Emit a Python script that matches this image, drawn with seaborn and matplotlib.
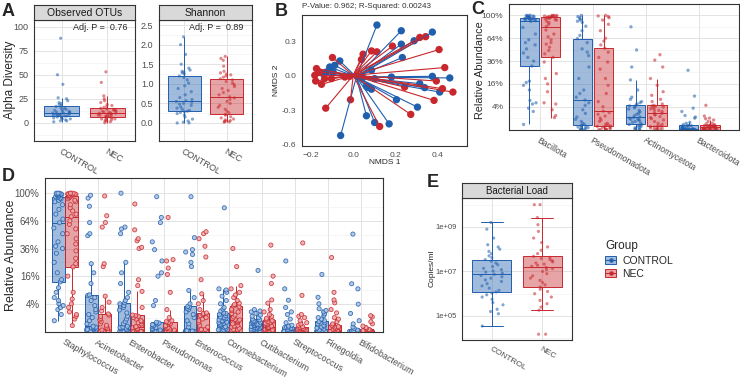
import numpy as np
import pandas as pd
import matplotlib
matplotlib.use("Agg")
import matplotlib.pyplot as plt
from matplotlib.patches import Patch
from matplotlib.lines import Line2D
from matplotlib.legend_handler import HandlerTuple
import seaborn as sns

GROUPS = ["CONTROL", "NEC"]
BLUE = "#1F5FAE"
RED = "#C8272D"

# ---- A: alpha diversity (sorted values per group)
otus_ctrl = [1, 2, 2, 3, 4, 4, 5, 5, 6, 6, 7, 7, 8, 8, 8, 9, 9, 9, 10, 10, 10,
             11, 11, 12, 12, 13, 14, 14, 15, 16, 17, 18, 19, 20, 21, 23, 25, 26, 40, 50, 88]
otus_nec = [0, 1, 2, 2, 3, 3, 4, 4, 5, 5, 6, 6, 7, 7, 8, 8, 8, 9, 9, 10, 10,
            10, 11, 11, 12, 12, 13, 13, 14, 14, 15, 16, 17, 18, 19, 21, 23, 25, 28, 42, 53]
shannon_ctrl = [0.0, 0.0, 0.02, 0.05, 0.1, 0.15, 0.2, 0.24, 0.27, 0.29, 0.30,
                0.32, 0.35, 0.38, 0.41, 0.45, 0.48, 0.5, 0.53, 0.55, 0.57,
                0.6, 0.65, 0.72, 0.8, 0.88, 0.95, 1.02, 1.1, 1.16, 1.20,
                1.25, 1.28, 1.3, 1.32, 1.35, 1.4, 1.5, 1.75, 2.0, 2.2]
shannon_nec = [0.02, 0.03, 0.04, 0.05, 0.06, 0.08, 0.1, 0.13, 0.16, 0.2, 0.22,
               0.26, 0.3, 0.35, 0.4, 0.45, 0.5, 0.55, 0.6, 0.64, 0.67,
               0.72, 0.78, 0.83, 0.88, 0.93, 0.98, 1.02, 1.06, 1.1, 1.13,
               1.17, 1.2, 1.23, 1.25, 1.28, 1.32, 1.45, 1.6, 1.65, 1.7]

# ---- B: NMDS coordinates and group centroids
nmds1_ctrl = [0.113, 0.229, 0.377, 0.290, 0.229, 0.234, -0.064, -0.112, -0.088, -0.128, -0.144, -0.096,
              0.087, 0.02, 0.045, 0.182, 0.102, 0.377, 0.46, 0.317, 0.34, 0.07, 0.087, 0.063,
              0.412, 0.206, 0.306, 0.063, 0.102, 0.171, -0.06]
nmds2_ctrl = [0.447, 0.397, 0.385, 0.309, 0.279, 0.162, 0.132, 0.079, 0.094, 0.035, 0.021, 0.035,
              0.05, -0.005, -0.015, -0.009, -0.023, -0.003, -0.017, -0.067, -0.102, -0.1, -0.116, -0.09,
              -0.141, -0.208, -0.273, -0.349, -0.408, -0.420, -0.522]
nmds1_nec = [0.317, 0.345, 0.187, 0.409, 0.087, 0.113, 0.047, 0.039, -0.099, -0.175, -0.183, -0.179,
             -0.151, -0.136, -0.104, -0.04, -0.017, -0.16, 0.436, 0.396, 0.425, 0.475, 0.245, 0.385,
             0.274, 0.126, -0.013, -0.131]
nmds2_nec = [0.338, 0.345, 0.262, 0.232, 0.220, 0.212, 0.191, 0.144, 0.162, 0.065, 0.006, -0.044,
             -0.073, -0.023, -0.023, -0.009, -0.003, 0.035, 0.074, -0.044, -0.111, -0.141, -0.097, -0.214,
             -0.337, -0.443, -0.208, -0.282]
centroid_ctrl = [0.015, -0.009]
centroid_nec = [0.0, 0.006]

# ---- C: phylum relative abundance (%)
phyla = ["Bacillota", "Pseudomonadota", "Actinomycetota", "Bacteroidota"]
bacillota_ctrl = [0.2, 2.5, 3.5, 5, 5.5, 6.5, 12, 15, 17, 18, 31, 36, 40, 45, 50, 55, 58, 62, 70, 80, 90,
                  91, 92, 93, 93, 94, 94, 94, 95, 95, 95, 96, 97, 97, 98, 98, 99, 99, 100, 100, 100]
bacillota_nec = [1.1, 1.5, 3, 5, 5.5, 11, 16, 20, 24, 35, 40, 44, 48, 52, 56, 58, 62, 66, 70, 76, 81.5,
                 85, 88, 90, 92, 93, 94, 95, 96, 96, 97, 97, 98, 98, 98, 99, 99, 99, 100, 100, 100]
pseudomonadota_ctrl = [0, 0, 0, 0, 0.01, 0.02, 0.03, 0.05, 0.08, 0.1, 0.13, 0.2, 0.3, 0.5, 0.8, 1.2, 2, 3, 4.5, 5.5, 6.7,
                       8, 10, 12, 20, 30, 42, 46, 50, 58, 63.5, 68, 75, 82, 88, 90, 92, 94, 96, 98, 100]
pseudomonadota_nec = [0, 0, 0, 0, 0, 0.01, 0.02, 0.04, 0.06, 0.08, 0.1, 0.15, 0.2, 0.3, 0.5, 0.7, 1.0, 1.4, 1.8, 2.2, 2.6,
                      4, 6, 10, 15, 20, 28, 35, 40, 46, 50.8, 55, 60, 64, 75, 85, 92, 96, 98, 99, 100]
actinomycetota_ctrl = [0, 0, 0, 0.01, 0.02, 0.04, 0.06, 0.1, 0.13, 0.17, 0.2, 0.3, 0.4, 0.5, 0.6, 0.7, 0.8, 0.9, 1.0, 1.1, 1.25,
                       1.5, 1.8, 2.0, 2.4, 2.8, 3.2, 3.6, 4.0, 4.3, 4.6, 5, 5.5, 6, 7, 8, 12, 18.9, 30, 48.7, 81]
actinomycetota_nec = [0, 0, 0, 0, 0.01, 0.02, 0.03, 0.05, 0.07, 0.09, 0.1, 0.2, 0.3, 0.5, 0.7, 0.9, 1.1, 1.3, 1.6, 1.8, 2.0,
                      2.2, 2.5, 2.8, 3.0, 3.3, 3.6, 3.9, 4.1, 4.3, 4.5, 5, 6, 7, 9, 11, 15, 20, 30, 37, 43]
bacteroidota_ctrl = [0] * 18 + [0.001, 0.001, 0.002, 0.005, 0.01, 0.02, 0.03, 0.05, 0.07, 0.09, 0.1, 0.12, 0.13,
                                0.2, 0.3, 0.4, 1.0, 1.2, 1.5, 2.5, 3.5, 8.6, 27]
bacteroidota_nec = [0] * 15 + [0.001, 0.002, 0.005, 0.01, 0.02, 0.04, 0.05, 0.06, 0.07, 0.08, 0.09, 0.1, 0.11, 0.12,
                               0.12, 0.13, 0.15, 0.2, 0.25, 0.3, 0.5, 0.7, 0.9, 1.0, 1.4, 4.5]

# ---- D: genus relative abundance (%)
genera = ["Staphylococcus", "Acinetobacter", "Enterobacter", "Pseudomonas", "Enterococcus",
          "Corynebacterium", "Cutibacterium", "Streptococcus", "Finegoldia", "Bifidobacterium"]
staph_ctrl = [0.6, 1.5, 2.5, 3, 3.5, 4, 5, 6, 8, 10, 12.8, 14, 18, 25, 32, 36, 38, 42, 50, 56, 61.8,
              66, 72, 78, 84, 88, 90, 92, 93, 94, 95, 96, 97, 97, 98, 98, 99, 99, 100, 100, 100]
staph_nec = [0.18, 0.8, 1.2, 1.5, 2, 3, 4, 5.5, 8, 16, 21.8, 24, 28, 34, 40, 45, 50, 55, 60, 64, 68.9,
             72, 76, 80, 84, 88, 90, 92, 94, 95, 96.6, 97, 97, 98, 98, 99, 99, 99, 100, 100, 100]
acineto_ctrl = [0] * 14 + [0.01, 0.02, 0.04, 0.06, 0.08, 0.1, 0.14, 0.3, 0.6, 1.0, 1.5, 2, 2.5, 3.5, 5, 6, 6.8,
                           7, 12, 18, 24, 48, 50, 62, 82, 93, 97]
acineto_nec = [0] * 20 + [0.01, 0.05, 0.1, 0.2, 0.3, 0.5, 0.7, 0.9, 1.2, 1.4, 1.6,
                          2.2, 3, 4.5, 6.5, 22, 24, 57, 62, 70, 96]
entero_ctrl = [0] * 14 + [0.01, 0.02, 0.04, 0.06, 0.08, 0.1, 0.14, 0.3, 0.5, 0.8, 1.2, 1.8, 2.4, 3, 3.5, 4, 4.3,
                          5, 6, 8, 12, 18, 25, 50, 55, 57, 100]
entero_nec = [0] * 15 + [0.01, 0.02, 0.04, 0.07, 0.1, 0.12, 0.2, 0.3, 0.4, 0.5, 0.6, 0.8, 1.0, 1.2, 1.3, 1.4,
                         3, 8.4, 11, 14, 36, 37, 43, 45, 54, 85]
pseudo_ctrl = [0] * 21 + [0.01, 0.02, 0.05, 0.08, 0.12, 0.18, 0.25, 0.3, 0.38, 0.44,
                          3.5, 5, 16, 18, 26, 35, 42, 62, 68, 95]
pseudo_nec = [0] * 21 + [0.01, 0.03, 0.05, 0.08, 0.12, 0.18, 0.25, 0.32, 0.4, 0.44,
                         0.5, 0.6, 1.0, 2.5, 8, 17, 21, 26, 27, 68]
enteroc_ctrl = [0] * 18 + [0.001, 0.002, 0.005, 0.1, 0.3, 0.6, 1.0, 1.5, 2, 2.5, 2.8, 3.1, 3.3,
                           4, 6, 8.8, 22, 25, 31, 33, 35, 46, 95]
enteroc_nec = [0] * 16 + [0.005, 0.01, 0.01, 0.02, 0.02, 0.1, 0.2, 0.4, 0.6, 0.8, 1.0, 1.3, 1.5, 1.7, 1.8,
                          2.5, 4, 5, 7.4, 14, 29, 38, 45, 50, 52]
coryne_ctrl = [0] * 7 + [0.005, 0.01, 0.015, 0.02, 0.05, 0.08, 0.12, 0.18, 0.22, 0.28, 0.34, 0.4, 0.45, 0.5,
                         0.6, 0.7, 0.8, 0.9, 1.0, 1.1, 1.3, 1.5, 1.7, 1.8, 2.2, 2.6, 3, 4, 5, 6.5, 8, 9, 9.5, 80]
coryne_nec = [0] * 6 + [0.005, 0.01, 0.01, 0.015, 0.02, 0.05, 0.1, 0.15, 0.2, 0.3, 0.4, 0.5, 0.6, 0.7, 0.74,
                        0.9, 1.1, 1.4, 1.7, 2, 2.3, 2.6, 2.9, 3.2, 3.4, 3.8, 4.2, 5, 6, 7, 8, 9.5, 11, 22, 36]
cuti_ctrl = [0] * 5 + [0.005, 0.01, 0.02, 0.03, 0.035, 0.04, 0.05, 0.07, 0.09, 0.1, 0.12, 0.13, 0.15, 0.17, 0.18, 0.2,
                       0.22, 0.25, 0.28, 0.32, 0.36, 0.4, 0.45, 0.5, 0.55, 0.6, 0.7, 0.8, 1.0, 1.2, 1.4, 1.7, 2.0,
                       2.2, 2.5, 19.5]
cuti_nec = [0] * 14 + [0.01, 0.02, 0.03, 0.05, 0.07, 0.08, 0.1, 0.15, 0.2, 0.25, 0.3, 0.35, 0.4, 0.5, 0.55, 0.6, 0.7,
                       0.9, 1.2, 1.5, 2, 2.5, 4.2, 5.2, 12, 16, 39]
strep_ctrl = [0] * 21 + [0.005, 0.01, 0.02, 0.03, 0.04, 0.05, 0.06, 0.08, 0.09, 0.1,
                         0.15, 0.2, 0.4, 0.8, 1.5, 2, 3, 5.1, 9.5, 26]
strep_nec = [0] * 21 + [0.005, 0.01, 0.015, 0.02, 0.03, 0.04, 0.05, 0.07, 0.09, 0.1,
                        0.12, 0.2, 0.3, 0.4, 0.6, 1.0, 1.2, 1.5, 6.8, 41]
fine_ctrl = [0] * 21 + [0.01, 0.03, 0.06, 0.1, 0.15, 0.2, 0.3, 0.4, 0.5, 0.6,
                        0.8, 1.0, 1.3, 1.6, 2.0, 2.3, 2.7, 4, 6.1, 17]
fine_nec = [0] * 21 + [0.005, 0.01, 0.02, 0.04, 0.06, 0.08, 0.1, 0.13, 0.16, 0.2,
                       0.3, 0.5, 0.8, 1.0, 1.8, 2.5, 4.3, 5.2, 8, 28.6]
bifido_ctrl = [0] * 28 + [0.001, 0.003, 0.005, 0.01, 0.05, 0.1, 0.3, 0.6, 1.7, 3.9, 9.5, 11.9, 49.6]
bifido_nec = [0] * 29 + [0.002, 0.003, 0.005, 0.01, 0.02, 0.04, 0.08, 0.15, 0.3, 0.5, 1.1, 1.3]

# ---- E: bacterial load, log10(copies/ml)
load_ctrl = [4.55, 5.1, 5.2, 5.3, 5.5, 5.6, 5.75, 5.85, 5.95, 6.02, 6.08,
             6.15, 6.25, 6.35, 6.45, 6.55, 6.62, 6.7, 6.76, 6.82, 6.87,
             6.92, 6.97, 7.02, 7.08, 7.14, 7.22, 7.3, 7.38, 7.46, 7.53,
             7.62, 7.7, 7.8, 7.9, 8.0, 8.1, 8.2, 8.5, 8.9, 9.2]
load_nec = [4.18, 4.18, 5.26, 5.4, 5.55, 5.7, 5.85, 6.0, 6.1, 6.2, 6.3,
            6.4, 6.5, 6.6, 6.7, 6.8, 6.9, 7.0, 7.08, 7.13, 7.18,
            7.23, 7.28, 7.33, 7.38, 7.43, 7.48, 7.53, 7.58, 7.63, 7.68,
            7.8, 7.95, 8.1, 8.3, 8.5, 8.8, 9.1, 9.42, 10.0, 10.0]

COLORS = {"CONTROL": BLUE, "NEC": RED}
LIGHT = {"CONTROL": "#A9C1E2", "NEC": "#EDAAAC"}

sns.set_style("white")
plt.rcParams["font.family"] = ["Liberation Sans", "DejaVu Sans"]

W, H = 740, 379
fig = plt.figure(figsize=(W / 100, H / 100), dpi=100)


def px_axes(x0, y0, x1, y1, **kw):
    return fig.add_axes([x0 / W, 1 - y1 / H, (x1 - x0) / W, (y1 - y0) / H], **kw)


def strip(x0, y0, x1, y1, label, size):
    sax = px_axes(x0, y0, x1, y1, facecolor="#D9D9D9")
    sax.set_xticks([])
    sax.set_yticks([])
    for sp in sax.spines.values():
        sp.set_color("#333333")
        sp.set_linewidth(0.8)
    sax.text(0.5, 0.45, label, ha="center", va="center", fontsize=size, color="#1A1A1A")


def bw_style(ax, major, minor, labels, size):
    ax.set_yticks(major)
    ax.set_yticklabels(labels)
    ax.set_yticks(minor, minor=True)
    ax.grid(True, which="major", color="#E3E3E3", lw=0.7)
    ax.grid(True, which="minor", axis="y", color="#EFEFEF", lw=0.4)
    ax.set_axisbelow(True)
    for sp in ax.spines.values():
        sp.set_color("#333333")
        sp.set_linewidth(0.8)
    ax.tick_params(which="major", length=2.5, width=0.5, color="#333333",
                   labelsize=size, labelcolor="#4D4D4D", pad=1.5)
    ax.tick_params(which="minor", length=0)
    ax.set_xlabel("")
    ax.set_ylabel("")


def rotate_x(ax, labels, size):
    ax.set_xticks(range(len(labels)))
    ax.set_xticklabels(labels, rotation=-30, ha="left", va="top",
                       rotation_mode="anchor", fontsize=size, color="#4D4D4D")


def boxes_and_points(ax, data, x, y, order, width, gap, dodge, capw, jitter, size, hollow=False):
    for g in GROUPS:
        sub = data[data["Group"] == g]
        sns.boxplot(data=sub, x=x, y=y, order=order, hue="Group", hue_order=GROUPS,
                    palette=COLORS, saturation=1, linecolor=COLORS[g], linewidth=0.7,
                    width=width, gap=gap, dodge=dodge, showfliers=False,
                    capwidths=capw, legend=False, ax=ax)
    for p in ax.patches:
        fc = p.get_facecolor()
        p.set_facecolor((fc[0], fc[1], fc[2], 0.42))
    np.random.seed(7)
    for g in GROUPS:
        sub = data[data["Group"] == g]
        if hollow:
            sns.stripplot(data=sub, x=x, y=y, order=order, hue="Group", hue_order=GROUPS,
                          palette=LIGHT, dodge=dodge, jitter=jitter, size=size,
                          edgecolor=COLORS[g], linewidth=0.6, alpha=0.85, legend=False, ax=ax)
        else:
            sns.stripplot(data=sub, x=x, y=y, order=order, hue="Group", hue_order=GROUPS,
                          palette=COLORS, dodge=dodge, jitter=jitter, size=size,
                          linewidth=0, alpha=0.55, legend=False, ax=ax)


def long_table(cats, ctrl_lists, nec_lists, name):
    rows = []
    for cat, vals in zip(cats, ctrl_lists):
        rows += [(cat, "CONTROL", v) for v in vals]
    for cat, vals in zip(cats, nec_lists):
        rows += [(cat, "NEC", v) for v in vals]
    return pd.DataFrame(rows, columns=[name, "Group", "pct"])


# ================= A =================
alpha_df = pd.DataFrame({
    "Group": ["CONTROL"] * len(otus_ctrl) + ["NEC"] * len(otus_nec),
    "OTUs": otus_ctrl + otus_nec,
})
shan_df = pd.DataFrame({
    "Group": ["CONTROL"] * len(shannon_ctrl) + ["NEC"] * len(shannon_nec),
    "Shannon": shannon_ctrl + shannon_nec,
})

ax_a1 = px_axes(34, 20, 135, 141)
boxes_and_points(ax_a1, alpha_df, "Group", "OTUs", GROUPS, 0.78, 0, False, 0.0, 0.2, 2.3)
bw_style(ax_a1, [0, 25, 50, 75, 100], [-12.5, 12.5, 37.5, 62.5, 87.5], ["0", "25", "50", "75", "100"], 6.5)
rotate_x(ax_a1, GROUPS, 6.5)
ax_a1.set_xlim(-0.6, 1.6)
ax_a1.set_ylim(-19, 107)
ax_a1.text(0.93, 0.94, "Adj. P =  0.76", transform=ax_a1.transAxes, ha="right", va="center", fontsize=6.5)
strip(34, 5, 135, 20, "Observed OTUs", 7.5)

ax_a2 = px_axes(159, 20, 252, 141)
boxes_and_points(ax_a2, shan_df, "Group", "Shannon", GROUPS, 0.78, 0, False, 0.0, 0.2, 2.3)
bw_style(ax_a2, [0, 0.5, 1, 1.5, 2, 2.5], [-0.25, 0.25, 0.75, 1.25, 1.75, 2.25],
         ["0.0", "0.5", "1.0", "1.5", "2.0", "2.5"], 6.5)
rotate_x(ax_a2, GROUPS, 6.5)
ax_a2.set_xlim(-0.6, 1.6)
ax_a2.set_ylim(-0.46, 2.63)
ax_a2.text(0.91, 0.94, "Adj. P =  0.89", transform=ax_a2.transAxes, ha="right", va="center", fontsize=6.5)
strip(159, 5, 252, 20, "Shannon", 7.5)
fig.text(10 / W, 1 - 80 / H, "Alpha Diversity", rotation=90, ha="center", va="center", fontsize=8.5)

# ================= B =================
pts = pd.DataFrame({
    "NMDS1": nmds1_ctrl + nmds1_nec,
    "NMDS2": nmds2_ctrl + nmds2_nec,
    "Group": ["CONTROL"] * len(nmds1_ctrl) + ["NEC"] * len(nmds1_nec),
})
cent = {"CONTROL": centroid_ctrl, "NEC": centroid_nec}
seg_rows = []
for i, r in pts.iterrows():
    c = cent[r["Group"]]
    seg_rows.append((i, r["Group"], c[0], c[1]))
    seg_rows.append((i, r["Group"], r["NMDS1"], r["NMDS2"]))
segs = pd.DataFrame(seg_rows, columns=["seg", "Group", "NMDS1", "NMDS2"])

ax_b = px_axes(302, 15, 467, 146)
sns.lineplot(data=segs, x="NMDS1", y="NMDS2", hue="Group", units="seg", estimator=None,
             sort=False, palette=COLORS, lw=0.8, legend=False, ax=ax_b)
sns.scatterplot(data=pts, x="NMDS1", y="NMDS2", hue="Group", palette=COLORS, s=28,
                linewidth=0, legend=False, ax=ax_b)
ax_b.set_xlim(-0.244, 0.542)
ax_b.set_ylim(-0.614, 0.535)
ax_b.set_xticks([-0.2, 0.0, 0.2, 0.4])
ax_b.set_yticks([-0.6, -0.3, 0.0, 0.3])
ax_b.set_yticklabels(["-0.6", "-0.3", "0.0", "0.3"])
for sp in ax_b.spines.values():
    sp.set_color("#333333")
    sp.set_linewidth(0.8)
ax_b.tick_params(length=2.5, width=0.5, color="#333333", labelsize=6, labelcolor="#4D4D4D", pad=1.5)
ax_b.set_xlabel("")
ax_b.set_ylabel("")
fig.text(302 / W, 1 - 6 / H, "P-Value: 0.962; R-Squared: 0.00243", ha="left", va="center",
         fontsize=5.8, color="#333333")
fig.text(385 / W, 1 - 163 / H, "NMDS 1", ha="center", va="center", fontsize=6)
fig.text(276 / W, 1 - 80 / H, "NMDS 2", rotation=90, ha="center", va="center", fontsize=6)

# ================= C =================
phy_df = long_table(phyla, [bacillota_ctrl, pseudomonadota_ctrl, actinomycetota_ctrl, bacteroidota_ctrl],
                    [bacillota_nec, pseudomonadota_nec, actinomycetota_nec, bacteroidota_nec], "Phylum")
phy_df["sqrt_abund"] = np.sqrt(phy_df["pct"] / 100)

pct_major = [0.2, 0.4, 0.6, 0.8, 1.0]
pct_minor = [0.1, 0.3, 0.5, 0.7, 0.9]
pct_labels = ["4%", "16%", "36%", "64%", "100%"]

ax_c = px_axes(509, 4, 739, 130)
boxes_and_points(ax_c, phy_df, "Phylum", "sqrt_abund", phyla, 0.8, 0.08, True, 0.0, 0.26, 2.4)
bw_style(ax_c, pct_major, pct_minor, pct_labels, 6)
rotate_x(ax_c, phyla, 6.2)
ax_c.set_xlim(-0.585, 3.75)
ax_c.set_ylim(-0.004, 1.1)
fig.text(480 / W, 1 - 70 / H, "Relative Abundance", rotation=90, ha="center", va="center", fontsize=7.8)

# ================= D =================
gen_df = long_table(genera,
                    [staph_ctrl, acineto_ctrl, entero_ctrl, pseudo_ctrl, enteroc_ctrl,
                     coryne_ctrl, cuti_ctrl, strep_ctrl, fine_ctrl, bifido_ctrl],
                    [staph_nec, acineto_nec, entero_nec, pseudo_nec, enteroc_nec,
                     coryne_nec, cuti_nec, strep_nec, fine_nec, bifido_nec], "Genus")
gen_df["sqrt_abund"] = np.sqrt(gen_df["pct"] / 100)

ax_d = px_axes(45, 178, 383, 332)
boxes_and_points(ax_d, gen_df, "Genus", "sqrt_abund", genera, 0.8, 0.05, True, 0.0, 0.3, 3.0, hollow=True)
bw_style(ax_d, pct_major, pct_minor, pct_labels, 7)
rotate_x(ax_d, genera, 6.5)
ax_d.set_xlim(-0.61, 9.67)
ax_d.set_ylim(-0.004, 1.11)
fig.text(11 / W, 1 - 255 / H, "Relative Abundance", rotation=90, ha="center", va="center", fontsize=9)

# ================= E =================
load_df = pd.DataFrame({
    "Group": ["CONTROL"] * len(load_ctrl) + ["NEC"] * len(load_nec),
    "log_copies": load_ctrl + load_nec,
})
ax_e = px_axes(462, 198, 572, 340)
boxes_and_points(ax_e, load_df, "Group", "log_copies", GROUPS, 0.78, 0, False, 0.44, 0.23, 2.3)
bw_style(ax_e, [5, 7, 9], [4, 6, 8, 10], ["1e+05", "1e+07", "1e+09"], 5.5)
rotate_x(ax_e, GROUPS, 6)
ax_e.set_xlim(-0.6, 1.6)
ax_e.set_ylim(3.92, 10.3)
strip(462, 183, 572, 198, "Bacterial Load", 7)
fig.text(432 / W, 1 - 268 / H, "Copies/ml", rotation=90, ha="center", va="center", fontsize=6)

# ================= legend =================
handles = []
for g in GROUPS:
    fc = matplotlib.colors.to_rgba(COLORS[g], 0.42)
    handles.append((Patch(facecolor=fc, edgecolor=COLORS[g], lw=0.7),
                    Line2D([], [], color=COLORS[g], lw=0.7, marker="o", markersize=2.2)))
leg = fig.legend(handles, GROUPS, handler_map={tuple: HandlerTuple(ndivide=1)},
                 loc="upper left", bbox_to_anchor=(596 / W, 1 - 231 / H), frameon=False,
                 title="Group", fontsize=7.5, title_fontsize=8.5, handlelength=1.0,
                 handleheight=0.9, handletextpad=0.6, labelspacing=0.3)
leg._legend_box.align = "left"

# ================= panel letters =================
for letter, (x, y) in {"A": (2, 3), "B": (275, 3), "C": (471, 1), "D": (2, 168), "E": (427, 174)}.items():
    fig.text(x / W, 1 - y / H, letter, ha="left", va="top", fontsize=13, fontweight="bold")

fig.savefig("out.png", dpi=100)
